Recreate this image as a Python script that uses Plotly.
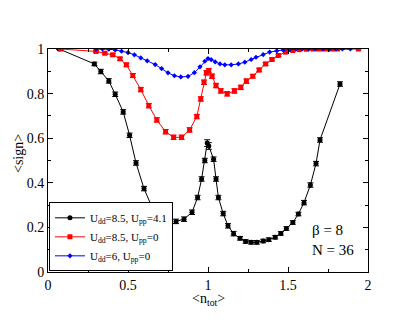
import plotly.graph_objects as go

# U_dd=8.5, U_pp=4.1
n_black = [0.07, 0.29, 0.33, 0.38, 0.42, 0.47, 0.51, 0.55, 0.60, 0.65, 0.70, 0.75, 0.80, 0.85, 0.90,
           0.935, 0.96, 0.98, 0.995, 1.005, 1.035, 1.05, 1.065, 1.095, 1.125, 1.16, 1.20, 1.235, 1.27,
           1.305, 1.345, 1.38, 1.42, 1.455, 1.49, 1.53, 1.565, 1.60, 1.64, 1.675, 1.70, 1.825]
s_black = [1.0, 0.933, 0.899, 0.857, 0.797, 0.718, 0.613, 0.489, 0.374, 0.291, 0.229, 0.196, 0.227, 0.237, 0.268,
           0.334, 0.417, 0.50, 0.578, 0.565, 0.506, 0.417, 0.334, 0.262, 0.207, 0.172, 0.151, 0.137, 0.133,
           0.133, 0.139, 0.145, 0.156, 0.173, 0.195, 0.222, 0.26, 0.311, 0.39, 0.486, 0.592, 0.843]
e_black = [0.003, 0.008, 0.01, 0.01, 0.01, 0.01, 0.01, 0.01, 0.01, 0.01, 0.01, 0.01, 0.01, 0.01, 0.01,
           0.01, 0.01, 0.01, 0.015, 0.015, 0.01, 0.01, 0.01, 0.01, 0.01, 0.01, 0.008, 0.008, 0.008,
           0.008, 0.008, 0.008, 0.008, 0.008, 0.008, 0.008, 0.008, 0.01, 0.01, 0.01, 0.01, 0.01]

# U_dd=8.5, U_pp=0
n_red = [0.08, 0.30, 0.355, 0.405, 0.45, 0.49, 0.53, 0.58, 0.63, 0.68, 0.735, 0.785, 0.835, 0.885, 0.93,
         0.955, 0.975, 0.99, 1.005, 1.025, 1.05, 1.08, 1.12, 1.165, 1.205, 1.24, 1.28, 1.32, 1.36, 1.40,
         1.44, 1.485, 1.53, 1.57, 1.615, 1.655, 1.69, 1.72, 1.75, 1.78, 1.81, 1.94]
s_red = [1.0, 0.989, 0.981, 0.974, 0.956, 0.929, 0.881, 0.818, 0.746, 0.682, 0.629, 0.604, 0.604, 0.637, 0.697,
         0.776, 0.851, 0.893, 0.903, 0.878, 0.836, 0.812, 0.799, 0.812, 0.828, 0.856, 0.878, 0.906, 0.933, 0.953,
         0.971, 0.986, 0.993, 0.997, 0.999, 1.0, 1.0, 1.0, 1.0, 1.0, 1.0, 1.0]
e_red = [0.002, 0.004, 0.005, 0.006, 0.007, 0.008, 0.009, 0.01, 0.01, 0.01, 0.01, 0.01, 0.01, 0.01, 0.01,
         0.01, 0.01, 0.01, 0.01, 0.01, 0.01, 0.01, 0.01, 0.01, 0.01, 0.01, 0.008, 0.008, 0.007, 0.006,
         0.005, 0.004, 0.003, 0.002, 0.002, 0.001, 0.001, 0.001, 0.001, 0.001, 0.001, 0.001]

# U_dd=6, U_pp=0
n_blue = [0.30, 0.34, 0.38, 0.42, 0.46, 0.50, 0.54, 0.58, 0.62, 0.67, 0.71, 0.75, 0.79, 0.83, 0.875,
          0.915, 0.95, 0.98, 1.0, 1.02, 1.045, 1.075, 1.105, 1.145, 1.19, 1.23, 1.27, 1.30, 1.345, 1.385,
          1.43, 1.47, 1.51, 1.55, 1.59, 1.63, 1.67, 1.72, 1.76, 1.80, 1.84, 1.89]
s_blue = [1.0, 1.0, 0.999, 0.996, 0.99, 0.984, 0.974, 0.96, 0.947, 0.93, 0.912, 0.893, 0.88, 0.875, 0.877,
          0.894, 0.92, 0.945, 0.957, 0.952, 0.942, 0.933, 0.929, 0.929, 0.933, 0.941, 0.953, 0.963, 0.975, 0.986,
          0.992, 0.996, 0.998, 1.0, 1.0, 1.0, 1.0, 1.0, 1.0, 1.0, 1.0, 1.0]

serif = "Liberation Serif"

fig = go.Figure()
fig.add_trace(go.Scatter(x=n_black, y=s_black, mode="lines+markers", name="U<sub>dd</sub>=8.5, U<sub>pp</sub>=4.1",
                         line=dict(color="black", width=1), marker=dict(symbol="circle", size=5, color="black"),
                         error_y=dict(type="data", array=e_black, color="black", thickness=1, width=3)))
fig.add_trace(go.Scatter(x=n_red, y=s_red, mode="lines+markers", name="U<sub>dd</sub>=8.5, U<sub>pp</sub>=0",
                         line=dict(color="red", width=1), marker=dict(symbol="square", size=5, color="red"),
                         error_y=dict(type="data", array=e_red, color="red", thickness=1, width=3)))
fig.add_trace(go.Scatter(x=n_blue, y=s_blue, mode="lines+markers", name="U<sub>dd</sub>=6, U<sub>pp</sub>=0",
                         line=dict(color="blue", width=1), marker=dict(symbol="diamond", size=4, color="blue")))

axis_style = dict(showline=True, linecolor="black", linewidth=1, mirror="allticks", ticks="inside",
                  ticklen=5, tickcolor="black", showgrid=False, zeroline=False, automargin=False,
                  tickfont=dict(family=serif, size=14, color="black"),
                  minor=dict(ticks="inside", ticklen=3, tickcolor="black"))

fig.update_xaxes(range=[0, 2], tickvals=[0, 0.5, 1, 1.5, 2], ticktext=["0", "0.5", "1", "1.5", "2"],
                 minor_dtick=0.25, **axis_style)
fig.update_yaxes(range=[0, 1], tickvals=[0, 0.2, 0.4, 0.6, 0.8, 1], ticktext=["0", "0.2", "0.4", "0.6", "0.8", "1"],
                 minor_dtick=0.1, **axis_style)

# axis titles placed as annotations to match the original positions
fig.add_annotation(x=0.5, y=-0.125, xref="paper", yref="paper", xanchor="center", yanchor="middle",
                   text="&lt;n<sub>tot</sub>&gt;", showarrow=False,
                   font=dict(family=serif, size=14, color="black"))
fig.add_annotation(x=-0.09, y=0.53, xref="paper", yref="paper", xanchor="center", yanchor="middle",
                   text="&lt;sign&gt;", showarrow=False, textangle=-90,
                   font=dict(family=serif, size=14, color="black"))

fig.add_annotation(x=1.635, y=0.19, xref="x", yref="y", text="β = 8", showarrow=False, xanchor="left",
                   font=dict(family=serif, size=15, color="black"))
fig.add_annotation(x=1.635, y=0.10, xref="x", yref="y", text="N = 36", showarrow=False, xanchor="left",
                   font=dict(family=serif, size=15, color="black"))

# the page adds 8px body margin, so the figure is 8px smaller and shifted margins
fig.update_layout(width=407, height=313, margin=dict(l=40, r=47, t=41, b=49),
                  plot_bgcolor="white", paper_bgcolor="white",
                  legend=dict(x=0.003, y=0.003, xanchor="left", yanchor="bottom", bgcolor="white",
                              bordercolor="black", borderwidth=1, tracegroupgap=0, itemwidth=30,
                              font=dict(family=serif, size=11, color="black")))

fig.write_html("out.html")
